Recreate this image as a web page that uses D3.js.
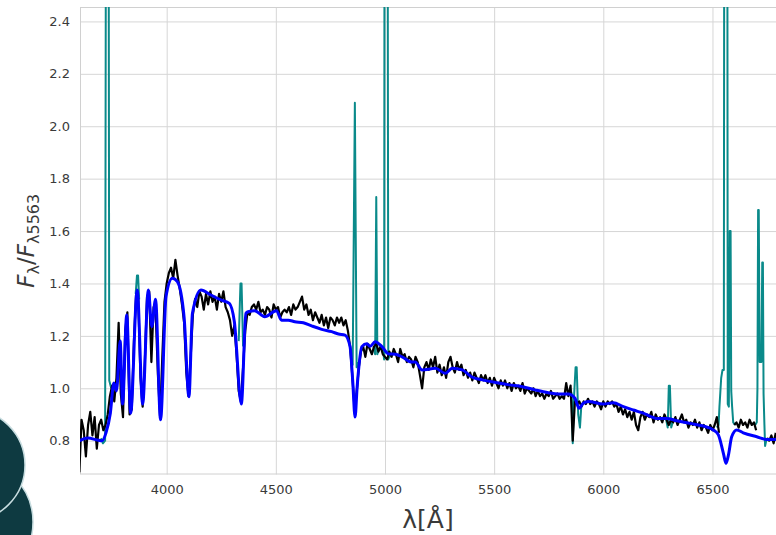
<!DOCTYPE html>
<html><head><meta charset="utf-8">
<script src="https://cdn.jsdelivr.net/npm/d3@7"></script>
<style>body{margin:0;background:#fff}svg{display:block}text{font-family:"DejaVu Sans",sans-serif}</style>
</head><body><svg id="c" width="776" height="535"></svg>
<script>
// ---------------- DATA ----------------
const xTicks = [4000, 4500, 5000, 5500, 6000, 6500];
const yTicks = [0.8, 1.0, 1.2, 1.4, 1.6, 1.8, 2.0, 2.2, 2.4];

// observed spectrum (black)
const blackWave = [
3600,3610,3620,3630,3640,3650,3660,3670,3680,3690,
3700,3710,3720,3730,3740,3750,3760,3770,3780,3790,
3800,3810,3820,3830,3840,3850,3860,3870,3880,3890,
3900,3910,3920,3930,3940,3950,3960,3970,3980,3990,
4000,4010,4020,4030,4040,4050,4060,4070,4080,4090,
4100,4110,4120,4130,4140,4150,4160,4170,4180,4190,
4200,4210,4220,4230,4240,4250,4260,4270,4280,4290,
4300,4310,4320,4330,4340,4350,4360,4370,4380,4390,
4400,4410,4420,4430,4440,4450,4460,4470,4480,4490,
4500,4510,4520,4530,4540,4550,4560,4570,4580,4590,
4600,4610,4620,4630,4640,4650,4660,4670,4680,4690,
4700,4710,4720,4730,4740,4750,4760,4770,4780,4790,
4800,4810,4820,4830,4840,4850,4860,4870,4880,4890,
4900,4910,4920,4930,4940,4950,4960,4970,4980,4990,
5000,5010,5020,5030,5040,5050,5060,5070,5080,5090,
5100,5110,5120,5130,5140,5150,5160,5170,5180,5190,
5200,5210,5220,5230,5240,5250,5260,5270,5280,5290,
5300,5310,5320,5330,5340,5350,5360,5370,5380,5390,
5400,5410,5420,5430,5440,5450,5460,5470,5480,5490,
5500,5510,5520,5530,5540,5550,5560,5570,5580,5590,
5600,5610,5620,5630,5640,5650,5660,5670,5680,5690,
5700,5710,5720,5730,5740,5750,5760,5770,5780,5790,
5800,5810,5820,5830,5840,5850,5860,5870,5880,5890,
5900,5910,5920,5930,5940,5950,5960,5970,5980,5990,
6000,6010,6020,6030,6040,6050,6060,6070,6080,6090,
6100,6110,6120,6130,6140,6150,6160,6170,6180,6190,
6200,6210,6220,6230,6240,6250,6260,6270,6280,6290,
6300,6310,6320,6330,6340,6350,6360,6370,6380,6390,
6400,6410,6420,6430,6440,6450,6460,6470,6480,6490,
6500,6510,6520,6530,6540,6550,6560,6570,6580,6590,
6600,6610,6620,6630,6640,6650,6660,6670,6680,6690,
6700,6710,6720,6730,6740,6750,6760,6770,6780,6790];
const blackFlux = [
0.68,0.88,0.84,0.74,0.86,0.91,0.82,0.89,0.77,0.86,
0.88,0.84,0.86,0.90,0.97,1.01,0.95,1.04,1.25,0.98,
0.89,1.22,1.29,0.90,0.92,1.18,1.36,1.34,1.04,0.93,
1.10,1.35,1.37,1.10,1.31,1.28,1.05,0.89,1.12,1.33,
1.40,1.44,1.46,1.42,1.49,1.43,1.38,1.32,1.25,1.06,
0.97,1.12,1.28,1.34,1.31,1.37,1.35,1.30,1.36,1.32,
1.37,1.33,1.35,1.30,1.36,1.33,1.37,1.31,1.29,1.26,
1.20,1.24,1.13,0.99,0.95,1.08,1.22,1.29,1.28,1.31,
1.32,1.30,1.33,1.29,1.30,1.28,1.31,1.30,1.27,1.32,
1.30,1.31,1.27,1.29,1.30,1.29,1.31,1.28,1.32,1.30,
1.31,1.33,1.35,1.30,1.32,1.28,1.30,1.26,1.29,1.27,
1.25,1.28,1.24,1.27,1.23,1.27,1.26,1.24,1.27,1.25,
1.27,1.24,1.26,1.22,1.16,1.05,0.93,0.98,1.08,1.14,
1.16,1.12,1.17,1.15,1.13,1.16,1.17,1.14,1.16,1.13,
1.12,1.11,1.14,1.12,1.15,1.13,1.10,1.15,1.12,1.13,
1.10,1.12,1.11,1.08,1.12,1.10,1.05,1.00,1.08,1.10,
1.07,1.11,1.08,1.12,1.06,1.09,1.05,1.08,1.04,1.10,
1.12,1.08,1.06,1.10,1.07,1.09,1.05,1.07,1.04,1.06,
1.03,1.06,1.04,1.02,1.05,1.03,1.05,1.02,1.04,1.01,
1.04,1.02,1.00,1.03,1.01,1.03,1.00,1.02,0.99,1.02,
1.00,1.01,0.99,1.02,0.98,1.00,0.99,0.98,1.00,0.97,
0.99,0.97,0.98,0.96,0.98,0.97,0.99,0.96,0.97,0.98,
0.96,0.97,0.96,1.02,0.97,1.01,0.80,0.95,0.94,0.95,
0.93,0.95,0.94,0.96,0.94,0.95,0.93,0.95,0.94,0.92,
0.95,0.93,0.95,0.94,0.95,0.93,0.94,0.91,0.93,0.90,
0.92,0.89,0.91,0.88,0.91,0.86,0.84,0.89,0.91,0.88,
0.90,0.89,0.91,0.87,0.90,0.88,0.89,0.87,0.90,0.88,
0.86,0.88,0.87,0.89,0.86,0.88,0.90,0.87,0.88,0.85,
0.87,0.86,0.88,0.85,0.87,0.84,0.86,0.85,0.83,0.86,
0.84,0.86,0.89,0.83,null,null,null,null,null,null,
0.86,0.87,0.85,0.88,0.86,0.87,0.85,0.88,0.86,0.87,
0.84,null,null,null,null,0.81,0.80,0.82,0.79,0.83];

// observed spectrum with emission lines (teal), shown where it departs from black
const tealWave = [
3700,3708,3718,3722,3734,3737,3746, 3750,
3858,3864,3869,3874, 3880,
4330,4338,4343,4350, 4355,
4845,4852,4862,4870,4878, 4885,
4948,4955,4960,4965,4972, 4980,
4990,4996,4998,5012,5015,5024, 5030,
5848,5855,5860,5866,5873,5878,5885,5893,5899,5906, 5910,
6288,6295,6300,6305,6311,6318, 6325,
6520,6528,6532,6540,6546,6552,6554,6568,6570,6575,6579,6583,6586,6590,6595,6604, 6610,
6696,6703,6706,6709,6712,6716,6724,6728,6731,6734,6738,6741,6746,6752];
const tealFlux = [
0.81,0.79,0.80,3.0,3.0,1.03,1.00, null,
1.36,1.43,1.43,1.34, null,
1.18,1.40,1.40,1.16, null,
1.14,1.09,2.09,1.08,1.10, null,
1.16,1.13,1.73,1.13,1.15, null,
1.15,1.11,3.0,3.0,1.11,1.13, null,
1.00,0.98,0.79,0.97,1.08,1.08,0.90,0.85,0.93,0.94, null,
0.88,0.85,1.01,1.01,0.85,0.87, null,
0.85,0.86,0.93,1.04,1.07,1.07,3.0,3.0,0.94,0.93,1.60,1.60,0.99,0.93,0.87,0.86, null,
0.86,0.87,1.00,1.68,1.68,1.10,1.10,1.48,1.48,0.98,0.86,0.78,0.80,0.81];

// stellar population model (blue)
const blueWave = [
3600,3640,3681,3704,3722,3742,3758,3770,3787,3798,
3817,3835,3865,3890,3916,3932,3949,3972,3997,4026,
4049,4080,4102,4118,4157,4202,4248,4287,4310,4342,
4363,4373,4403,4449,4503,4526,4557,4587,4626,4664,
4710,4756,4787,4817,4840,4852,4863,4872,4879,4894,
4917,4932,4955,4986,5017,5047,5078,5124,5139,5170,
5231,5277,5308,5354,5400,5446,5507,5569,5630,5687,
5748,5794,5840,5870,5889,5908,5931,6000,6046,6092,
6138,6183,6245,6290,6336,6397,6458,6504,6527,6550,
6562,6573,6588,6611,6641,6703,6749,6791];
const blueFlux = [
0.80,0.81,0.803,0.80,0.83,0.905,1.02,0.99,1.18,0.94,
1.28,0.905,1.375,0.94,1.375,1.235,1.34,0.88,1.35,1.42,
1.407,1.27,0.968,1.286,1.375,1.356,1.337,1.324,1.254,0.94,
1.286,1.292,1.296,1.273,1.296,1.26,1.26,1.254,1.25,1.238,
1.225,1.216,1.207,1.203,1.159,1.03,0.89,1.00,1.07,1.159,
1.17,1.16,1.178,1.159,1.131,1.13,1.12,1.10,1.10,1.07,
1.076,1.057,1.076,1.07,1.042,1.032,1.022,1.013,1.006,0.994,
0.983,0.978,0.978,0.962,0.924,0.943,0.95,0.94,0.945,0.93,
0.917,0.905,0.885,0.885,0.876,0.866,0.856,0.841,0.822,0.752,
0.714,0.745,0.815,0.841,0.83,0.815,0.805,0.805];

// ---------------- CHART ----------------
const svg = d3.select("#c");
const L = 80, R = 776, T = 7, B = 474.5;
const x = d3.scaleLinear().domain([3603, 6791]).range([L, R]);
const y = d3.scaleLinear().domain([0.671, 2.455]).range([B, T]);

// decorative shapes (bottom-left)
const deco = svg.append("g");
deco.append("circle").attr("cx", -30).attr("cy", 522).attr("r", 63)
  .attr("fill", "#0e3a41").attr("stroke", "#c8dde0").attr("stroke-width", 1.5);
deco.append("circle").attr("cx", -31).attr("cy", 465).attr("r", 56)
  .attr("fill", "#0e3a41").attr("stroke", "#c8dde0").attr("stroke-width", 1.5);

svg.append("rect").attr("x", L).attr("y", T).attr("width", R - L).attr("height", B - T).attr("fill", "#fff");

// grid
const gx = svg.append("g").attr("transform", `translate(0,${B})`)
  .call(d3.axisBottom(x).tickValues(xTicks).tickSize(-(B - T)).tickPadding(10).tickFormat(d3.format("d")));
const gy = svg.append("g").attr("transform", `translate(${L},0)`)
  .call(d3.axisLeft(y).tickValues(yTicks).tickSize(-(R - L)).tickPadding(10).tickFormat(d3.format(".1f")));
[gx, gy].forEach(g => {
  g.select(".domain").remove();
  g.selectAll(".tick line").attr("stroke", "#d6d6d6").attr("stroke-width", 1);
  g.selectAll(".tick text").attr("fill", "#3a3a3a").style("font-size", "13px").style("font-family", "DejaVu Sans");
});

// frame
svg.append("rect").attr("x", L + 0.5).attr("y", T + 0.5).attr("width", R - L).attr("height", B - T - 1)
  .attr("fill", "none").attr("stroke", "#d0d0d0").attr("stroke-width", 1);

svg.append("clipPath").attr("id", "clip").append("rect")
  .attr("x", L).attr("y", T).attr("width", R - L).attr("height", B - T);
const plot = svg.append("g").attr("clip-path", "url(#clip)");

const mk = (w, f) => w.map((d, i) => ({ w: d, v: f[i] }));
const line = d3.line().defined(d => d.v != null).x(d => x(d.w)).y(d => y(d.v));

plot.append("path").datum(mk(tealWave, tealFlux)).attr("d", line)
  .attr("fill", "none").attr("stroke", "#0a8a8a").attr("stroke-width", 2).attr("stroke-linejoin", "round");
plot.append("path").datum(mk(blackWave, blackFlux)).attr("d", line)
  .attr("fill", "none").attr("stroke", "#000").attr("stroke-width", 2.2).attr("stroke-linejoin", "round");
plot.append("path").datum(mk(blueWave, blueFlux))
  .attr("d", d3.line().x(d => x(d.w)).y(d => y(d.v)).curve(d3.curveMonotoneX))
  .attr("fill", "none").attr("stroke", "#0000ff").attr("stroke-width", 3).attr("stroke-linejoin", "round");

// axis labels
svg.append("text").attr("x", (L + R) / 2).attr("y", 528).attr("text-anchor", "middle")
  .attr("fill", "#3a3a3a").style("font-size", "25px").text("λ[Å]");

const yl = svg.append("text").attr("transform", `translate(34,${(T + B) / 2}) rotate(-90)`)
  .attr("text-anchor", "middle").attr("fill", "#3a3a3a").style("font-size", "23px");
yl.append("tspan").style("font-style", "italic").text("F");
yl.append("tspan").attr("dy", 5).style("font-size", "16px").text("λ");
yl.append("tspan").attr("dy", -5).text("/");
yl.append("tspan").style("font-style", "italic").text("F");
yl.append("tspan").attr("dy", 5).style("font-size", "16px").text("λ5563");
</script></body></html>
